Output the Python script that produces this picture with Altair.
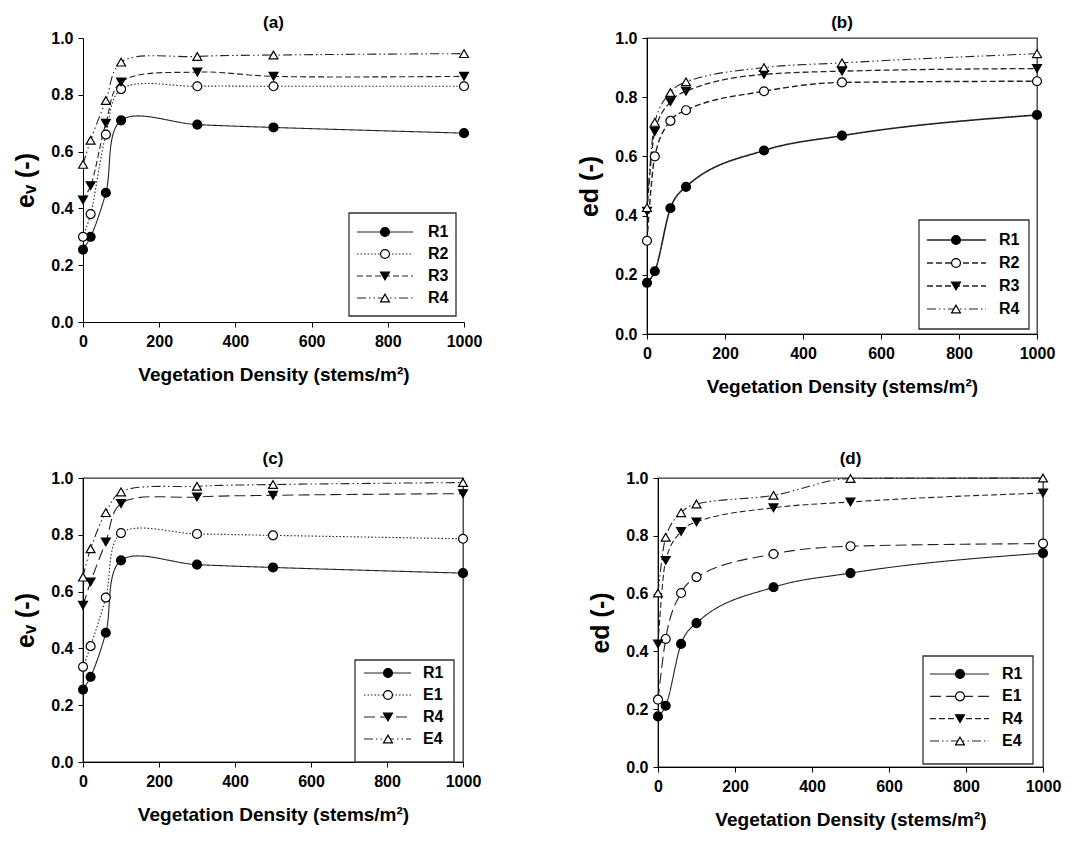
import altair as alt
import pandas as pd

density = [0, 20, 60, 100, 300, 500, 1000]

# panel (a) e_v
a_names = ["R1", "R2", "R3", "R4"]
a_R1 = [0.255, 0.300, 0.455, 0.710, 0.695, 0.685, 0.665]
a_R2 = [0.300, 0.380, 0.660, 0.820, 0.830, 0.830, 0.830]
a_R3 = [0.430, 0.480, 0.700, 0.845, 0.880, 0.865, 0.865]
a_R4 = [0.555, 0.640, 0.780, 0.915, 0.935, 0.940, 0.945]

# panel (b) e_d
b_names = ["R1", "R2", "R3", "R4"]
b_R1 = [0.173, 0.212, 0.425, 0.497, 0.620, 0.670, 0.740]
b_R2 = [0.315, 0.600, 0.720, 0.756, 0.820, 0.850, 0.854]
b_R3 = [0.415, 0.684, 0.785, 0.820, 0.877, 0.888, 0.897]
b_R4 = [0.427, 0.715, 0.816, 0.852, 0.900, 0.916, 0.947]

# panel (c) e_v
c_names = ["R1", "E1", "R4", "E4"]
c_R1 = [0.255, 0.300, 0.455, 0.710, 0.695, 0.685, 0.665]
c_E1 = [0.335, 0.408, 0.579, 0.806, 0.803, 0.798, 0.786]
c_R4 = [0.552, 0.634, 0.775, 0.910, 0.933, 0.939, 0.945]
c_E4 = [0.651, 0.751, 0.878, 0.951, 0.971, 0.977, 0.984]

# panel (d) e_d
d_names = ["R1", "E1", "R4", "E4"]
d_R1 = [0.175, 0.212, 0.426, 0.498, 0.622, 0.671, 0.740]
d_E1 = [0.233, 0.443, 0.602, 0.657, 0.737, 0.764, 0.773]
d_R4 = [0.426, 0.715, 0.815, 0.848, 0.897, 0.917, 0.948]
d_E4 = [0.602, 0.795, 0.880, 0.910, 0.940, 0.998, 1.000]

x_ticks = [0, 200, 400, 600, 800, 1000]
y_ticks = [0.0, 0.2, 0.4, 0.6, 0.8, 1.0]

FONT = "Liberation Sans"
SOLID = [1, 0]
DOT = [1.5, 2]
DASH = [6, 3]
LDASH = [11, 5]
DDOT = [9, 3, 1.5, 3, 1.5, 3]
SHAPES = ["circle", "circle", "triangle-down", "triangle-up"]
FILLS = ["black", "white", "black", "white"]


def panel(title, ytitle, names, series, dashes, width, height, frame, legend_box, interp, r1w, toff):
    rows = []
    for n, vals in zip(names, series):
        for x, v in zip(density, vals):
            rows.append({"x": x, "y": v, "s": n})
    df = pd.DataFrame(rows)
    xs = alt.Scale(domain=[0, 1000], nice=False)
    ys = alt.Scale(domain=[0, 1], nice=False)
    dash_scale = alt.Scale(domain=names, range=dashes)
    shape_scale = alt.Scale(domain=names, range=SHAPES)
    fill_scale = alt.Scale(domain=names, range=FILLS)
    width_scale = alt.Scale(domain=names, range=[r1w, 1.1, 1.1, 1.1])

    xaxis = alt.Axis(values=x_ticks, format="d", title="Vegetation Density (stems/m²)", grid=False,
                     labelFont=FONT, labelFontSize=16, labelFontWeight="bold",
                     titleFont=FONT, titleFontSize=19, titleFontWeight="bold",
                     tickSize=5, tickColor="black", domainColor="black",
                     labelColor="black", titleColor="black", labelPadding=6, titlePadding=16,
                     labelFlush=False)
    yaxis = alt.Axis(values=y_ticks, format=".1f", title=ytitle, grid=False,
                     labelFont=FONT, labelFontSize=16, labelFontWeight="bold",
                     titleFont=FONT, titleFontSize=25, titleFontWeight="bold",
                     tickSize=5, tickColor="black", domainColor="black",
                     labelColor="black", titleColor="black", labelPadding=5, titlePadding=12)

    base = alt.Chart(df)
    lines = base.mark_line(interpolate=interp, color="#222").encode(
        x=alt.X("x:Q", scale=xs, axis=xaxis),
        y=alt.Y("y:Q", scale=ys, axis=yaxis),
        strokeDash=alt.StrokeDash("s:N", scale=dash_scale, legend=None),
        strokeWidth=alt.StrokeWidth("s:N", scale=width_scale, legend=None),
        detail="s:N",
    )
    pts = base.mark_point(size=80, stroke="black", strokeWidth=1.2, opacity=1).encode(
        x=alt.X("x:Q", scale=xs, axis=xaxis),
        y=alt.Y("y:Q", scale=ys, axis=None),
        shape=alt.Shape("s:N", scale=shape_scale, legend=None),
        fill=alt.Fill("s:N", scale=fill_scale, legend=None),
    )

    # legend inside the plot
    bx0, bx1, by0, by1, ry0, ry1, lx0, lx1, mx, tx = legend_box
    leg_df = pd.DataFrame({"s": names})
    ly = alt.Y("s:N", scale=alt.Scale(type="point", domain=names, range=[ry0, ry1], padding=0), axis=None)
    lbase = alt.Chart(leg_df)
    box = alt.Chart(pd.DataFrame({"k": [0]})).mark_rect(fill="white", stroke="#333", strokeWidth=1.3).encode(
        x=alt.value(bx0), x2=alt.value(bx1), y=alt.value(by0), y2=alt.value(by1))
    lrule = lbase.mark_rule(color="#222").encode(
        x=alt.value(lx0), x2=alt.value(lx1), y=ly,
        strokeDash=alt.StrokeDash("s:N", scale=dash_scale, legend=None),
        strokeWidth=alt.StrokeWidth("s:N", scale=width_scale, legend=None))
    lpt = lbase.mark_point(size=80, stroke="black", strokeWidth=1.2, opacity=1).encode(
        x=alt.value(mx), y=ly,
        shape=alt.Shape("s:N", scale=shape_scale, legend=None),
        fill=alt.Fill("s:N", scale=fill_scale, legend=None))
    ltxt = lbase.mark_text(align="left", baseline="middle", font=FONT, fontSize=16,
                           fontWeight="bold", color="black").encode(
        x=alt.value(tx), y=ly, text="s:N")

    view = alt.ViewBackground(stroke="#333", strokeWidth=1.3) if frame else alt.ViewBackground(stroke="transparent")
    ch = alt.layer(lines, pts, box, lrule, lpt, ltxt).resolve_scale(y="independent").properties(
        width=width, height=height, view=view,
        title=alt.TitleParams(title, font=FONT, fontSize=17, fontWeight="bold", color="black", offset=toff),
    )
    return ch


pa = panel("(a)", "eᵥ (-)", a_names, [a_R1, a_R2, a_R3, a_R4], [SOLID, DOT, DASH, DDOT],
           381, 284, False, (266, 373, 175, 278, 194, 260, 274, 330, 302, 345), "catmull-rom", 1.1, -2)
pb = panel("(b)", "ed (-)", b_names, [b_R1, b_R2, b_R3, b_R4], [SOLID, DASH, DASH, DDOT],
           390, 296, True, (272, 382, 182, 291, 202, 271, 280, 339, 309, 352), "monotone", 1.6, -2)
pc = panel("(c)", "eᵥ (-)", c_names, [c_R1, c_E1, c_R4, c_E4], [SOLID, DOT, LDASH, DDOT],
           380, 284, True, (272, 371, 182, 284, 195, 261, 281, 328, 305, 340), "catmull-rom", 1.1, 2)
pd_ = panel("(d)", "ed (-)", d_names, [d_R1, d_E1, d_R4, d_E4], [SOLID, LDASH, DASH, DDOT],
            385, 289, True, (265, 375, 178, 286, 196, 263, 272, 331, 302, 344), "monotone", 1.1, 2)

ind = dict(shape="independent", fill="independent", strokeDash="independent", strokeWidth="independent")
top = alt.hconcat(pa, pb, spacing=94).resolve_scale(**ind)
bottom = alt.hconcat(pc, pd_, spacing=106).resolve_scale(**ind)
chart = alt.vconcat(top, bottom, spacing=52).resolve_scale(**ind).configure(background="white")

chart.save("out.html", embed_options={"renderer": "svg", "actions": False})
